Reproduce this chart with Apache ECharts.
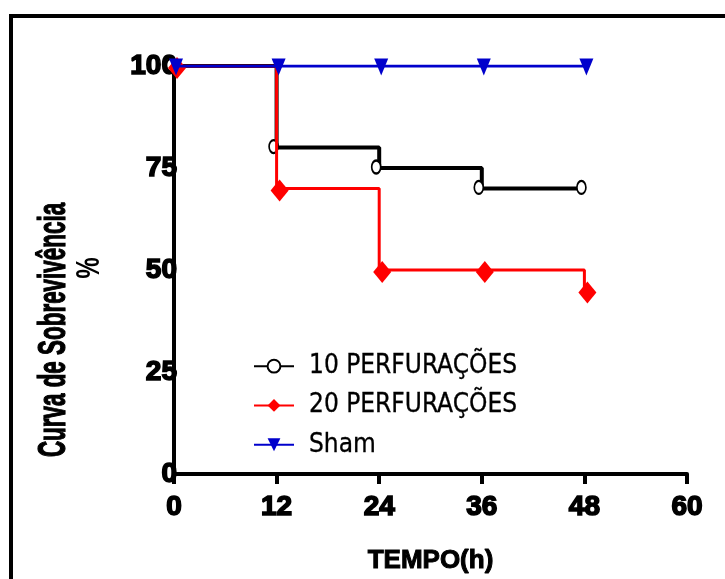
<!DOCTYPE html>
<html>
<head>
<meta charset="utf-8">
<script src="https://cdn.jsdelivr.net/npm/echarts@6/dist/echarts.min.js"></script>
<style>html,body{margin:0;padding:0;background:#fff;}#c{width:725px;height:579px;}</style>
</head>
<body>
<div id="c"></div>
<script>
// Data (survival %, time in hours)
const seriesNames = ['10 PERFURAÇÕES', '20 PERFURAÇÕES', 'Sham'];
const timePoints = [0, 12, 24, 36, 48];
const perf10 = [100, 80, 75, 70, 70];
const perf20 = [100, 70, 50, 50, 45];
const sham = [100, 100, 100, 100, 100];
const xTicks = [0, 12, 24, 36, 48, 60];
const yTicks = [0, 25, 50, 75, 100];

const pair = arr => timePoints.map((t, i) => [t, arr[i]]);

const chart = echarts.init(document.getElementById('c'), null, {renderer: 'canvas'});
const tickFont = {fontFamily: 'Liberation Sans', fontWeight: 'bold', fontSize: 28, color: '#000', textBorderColor: '#000', textBorderWidth: 1.6};

chart.setOption({
  animation: false,
  backgroundColor: '#fff',
  grid: {left: 174, right: 38, top: 66, bottom: 105, outerBoundsMode: 'none', containLabel: false},
  legend: {
    orient: 'vertical', left: 248, top: 348,
    itemWidth: 40, itemHeight: 16, itemGap: 13,
    data: seriesNames,
    textStyle: {fontFamily: 'Liberation Sans Narrow, DejaVu Sans Condensed, Liberation Sans', fontSize: 26, color: '#000', lineHeight: 25, padding: [0, 0, 0, 10], textBorderColor: '#000', textBorderWidth: 0.3}
  },
  xAxis: {
    type: 'value', min: 0, max: 60, interval: 12,
    name: 'TEMPO(h)', nameLocation: 'middle', nameGap: 74,
    nameTextStyle: {fontFamily: 'Liberation Sans', fontWeight: 'bold', fontSize: 26, color: '#000', textBorderColor: '#000', textBorderWidth: 1},
    splitLine: {show: false},
    axisLine: {show: true, lineStyle: {color: '#000', width: 4}},
    axisTick: {show: true, length: 10, lineStyle: {color: '#000', width: 4}},
    axisLabel: Object.assign({margin: 19, formatter: v => xTicks.includes(v) ? String(v) : ''}, tickFont)
  },
  yAxis: {
    type: 'value', min: 0, max: 100, interval: 25,
    splitLine: {show: false},
    axisLine: {show: true, lineStyle: {color: '#000', width: 4}},
    axisTick: {show: false},
    axisLabel: Object.assign({margin: -3, formatter: v => yTicks.includes(v) ? String(v) : ''}, tickFont)
  },
  graphic: [
    {type: 'rect', shape: {x: 11, y: 16, width: 800, height: 700}, style: {fill: 'none', stroke: '#000', lineWidth: 4}, z: 0, silent: true},
    {type: 'text', x: 55, y: 330, rotation: Math.PI / 2, scaleX: 0.59,
      style: {text: 'Curva de Sobrevivência', font: 'bold 38px "Liberation Sans"', fill: '#000', stroke: '#000', lineWidth: 1.2, align: 'center', verticalAlign: 'middle'}},
    {type: 'text', x: 90, y: 268, rotation: Math.PI / 2, scaleX: 0.7,
      style: {text: '%', font: 'bold 34px "Liberation Sans"', fill: '#000', align: 'center', verticalAlign: 'middle'}}
  ],
  series: [
    {
      name: seriesNames[0], type: 'line', step: 'end', data: pair(perf10),
      symbol: 'emptyCircle', symbolSize: [9, 13], symbolOffset: [-3, -1], showAllSymbol: true,
      lineStyle: {color: '#000', width: 4},
      itemStyle: {color: '#000', borderColor: '#000', borderWidth: 3},
      z: 3
    },
    {
      name: seriesNames[1], type: 'line', step: 'end', data: pair(perf20),
      symbol: 'diamond', symbolSize: [18, 22], symbolOffset: [3, 2], showAllSymbol: true,
      lineStyle: {color: '#ff0000', width: 3},
      itemStyle: {color: '#ff0000'},
      z: 4
    },
    {
      name: seriesNames[2], type: 'line', step: 'end', data: pair(sham),
      symbol: 'triangle', symbolRotate: 180, symbolSize: [14, 17], symbolOffset: [2, 1], showAllSymbol: true,
      lineStyle: {color: '#0000cc', width: 3},
      itemStyle: {color: '#0000cc'},
      z: 5
    }
  ]
});
</script>
</body>
</html>
